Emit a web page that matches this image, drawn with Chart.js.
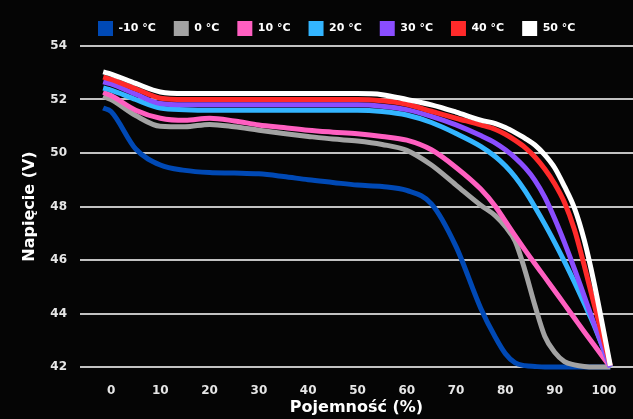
<!DOCTYPE html>
<html>
<head>
<meta charset="utf-8">
<script src="https://cdn.jsdelivr.net/npm/chart.js@4.4.1/dist/chart.umd.min.js"></script>
<style>
html, body { margin: 0; padding: 0; background: #050505; }
#wrap { width: 633px; height: 419px; }
</style>
</head>
<body>
<div id="wrap"><canvas id="grafico"></canvas></div>
<script>
// dane
var pojemnosc = [-1.6, 0, 5, 10, 15, 20, 25, 30, 35, 40, 45, 50, 55, 60, 65, 70, 75, 78, 80, 82, 84, 86, 88, 90, 92, 94, 96, 98, 101.3];
var temperatury = ['-10 °C', '0 °C', '10 °C', '20 °C', '30 °C', '40 °C', '50 °C'];
var osX = [0, 10, 20, 30, 40, 50, 60, 70, 80, 90, 100];
var osY = [42, 44, 46, 48, 50, 52, 54];

var t_m10 = [51.68, 51.55, 50.15, 49.55, 49.35, 49.27, 49.25, 49.22, 49.12, 49.0, 48.9, 48.8, 48.75, 48.6, 48.1, 46.5, 44.2, 43.1, 42.5, 42.15, 42.05, 42.02, 42.0, 42.0, 42.0, 42.0, 42.0, 42.0, 42.0];
var t_0 = [52.12, 52.0, 51.4, 51.0, 50.98, 51.07, 50.98, 50.85, 50.73, 50.62, 50.52, 50.45, 50.32, 50.1, 49.55, 48.8, 48.05, 47.65, 47.25, 46.7, 45.6, 44.3, 43.15, 42.55, 42.2, 42.08, 42.02, 42.0, 42.0];
var t_10 = [52.27, 52.15, 51.6, 51.3, 51.22, 51.3, 51.2, 51.05, 50.95, 50.85, 50.78, 50.72, 50.62, 50.48, 50.12, 49.46, 48.65, 48.0, 47.45, 46.9, 46.37, 45.86, 45.36, 44.85, 44.34, 43.83, 43.32, 42.82, 42.0];
var t_20 = [52.43, 52.35, 52.0, 51.68, 51.62, 51.6, 51.6, 51.6, 51.6, 51.6, 51.6, 51.6, 51.55, 51.42, 51.14, 50.73, 50.25, 49.86, 49.52, 49.1, 48.58, 47.98, 47.34, 46.66, 45.94, 45.18, 44.38, 43.56, 42.0];
var t_30 = [52.66, 52.58, 52.2, 51.85, 51.8, 51.8, 51.8, 51.8, 51.8, 51.8, 51.8, 51.8, 51.75, 51.62, 51.37, 51.05, 50.65, 50.37, 50.12, 49.82, 49.45, 48.98, 48.35, 47.55, 46.65, 45.68, 44.65, 43.62, 42.0];
var t_40 = [52.84, 52.75, 52.4, 52.05, 52.0, 52.0, 52.0, 52.0, 52.0, 52.0, 52.0, 52.0, 51.95, 51.82, 51.56, 51.3, 51.05, 50.88, 50.7, 50.47, 50.2, 49.85, 49.4, 48.85, 48.15, 47.15, 45.8, 44.35, 42.05];
var t_50 = [53.03, 52.95, 52.6, 52.28, 52.22, 52.22, 52.22, 52.22, 52.22, 52.22, 52.22, 52.22, 52.18, 52.0, 51.8, 51.53, 51.23, 51.1, 50.95, 50.76, 50.55, 50.3, 49.93, 49.45, 48.75, 47.95, 46.75, 45.15, 42.05];

var serie = [t_m10, t_0, t_10, t_20, t_30, t_40, t_50];
var kolory = ['#0049b5', '#a3a3a3', '#ff5fc1', '#33b5ff', '#8a4dff', '#ff2a2a', '#ffffff'];

var fonte = 'DejaVu Sans';

var datasets = serie.map(function (valores, i) {
  return {
    label: temperatury[i],
    data: valores.map(function (v, j) { return { x: pojemnosc[j], y: v }; }),
    borderColor: kolory[i],
    backgroundColor: kolory[i],
    borderWidth: 5,
    pointRadius: 0,
    cubicInterpolationMode: 'monotone',
    clip: false,
    order: serie.length - i
  };
});

var ctx = document.getElementById('grafico').getContext('2d');
var wykres = new Chart(ctx, {
  type: 'line',
  data: { datasets: datasets },
  options: {
    responsive: true,
    maintainAspectRatio: false,
    animation: false,
    layout: { padding: { top: 3, right: 0, left: 0, bottom: 0 } },
    plugins: {
      tooltip: { enabled: false },
      legend: {
        position: 'top',
        align: 'start',
        fullSize: false,
        labels: {
          color: '#ffffff',
          boxWidth: 15,
          boxHeight: 15,
          padding: 18,
          font: { family: fonte, size: 11, weight: 'bold' },
          sort: function (a, b) { return a.datasetIndex - b.datasetIndex; },
          generateLabels: function (chart) {
            var itens = Chart.defaults.plugins.legend.labels.generateLabels(chart);
            itens.forEach(function (it) {
              it.lineWidth = 0;
              it.fillStyle = kolory[it.datasetIndex];
            });
            return itens;
          }
        }
      }
    },
    scales: {
      x: {
        type: 'linear',
        min: -6.3,
        max: 105.9,
        afterBuildTicks: function (scale) {
          scale.ticks = osX.map(function (v) { return { value: v }; });
        },
        afterFit: function (scale) { scale.height = 52; },
        grid: { display: false },
        border: { display: false },
        ticks: {
          color: '#e6e6e6',
          padding: 9,
          maxRotation: 0,
          font: { family: fonte, size: 12, weight: 'bold' }
        },
        title: {
          display: true,
          text: 'Pojemność (%)',
          color: '#ffffff',
          padding: { top: 0, bottom: 2 },
          font: { family: fonte, size: 16, weight: 'bold' }
        }
      },
      y: {
        type: 'linear',
        min: 42,
        max: 54,
        afterBuildTicks: function (scale) {
          scale.ticks = osY.map(function (v) { return { value: v }; });
        },
        afterFit: function (scale) { scale.width = 80; },
        grid: { color: '#c2c2c2', lineWidth: 2, drawTicks: false },
        border: { display: false },
        ticks: {
          color: '#e6e6e6',
          padding: 13,
          font: { family: fonte, size: 12, weight: 'bold' }
        },
        title: {
          display: true,
          text: 'Napięcie (V)',
          color: '#ffffff',
          padding: { top: 20, bottom: 0 },
          font: { family: fonte, size: 16, weight: 'bold' }
        }
      }
    }
  }
});
</script>
</body>
</html>
